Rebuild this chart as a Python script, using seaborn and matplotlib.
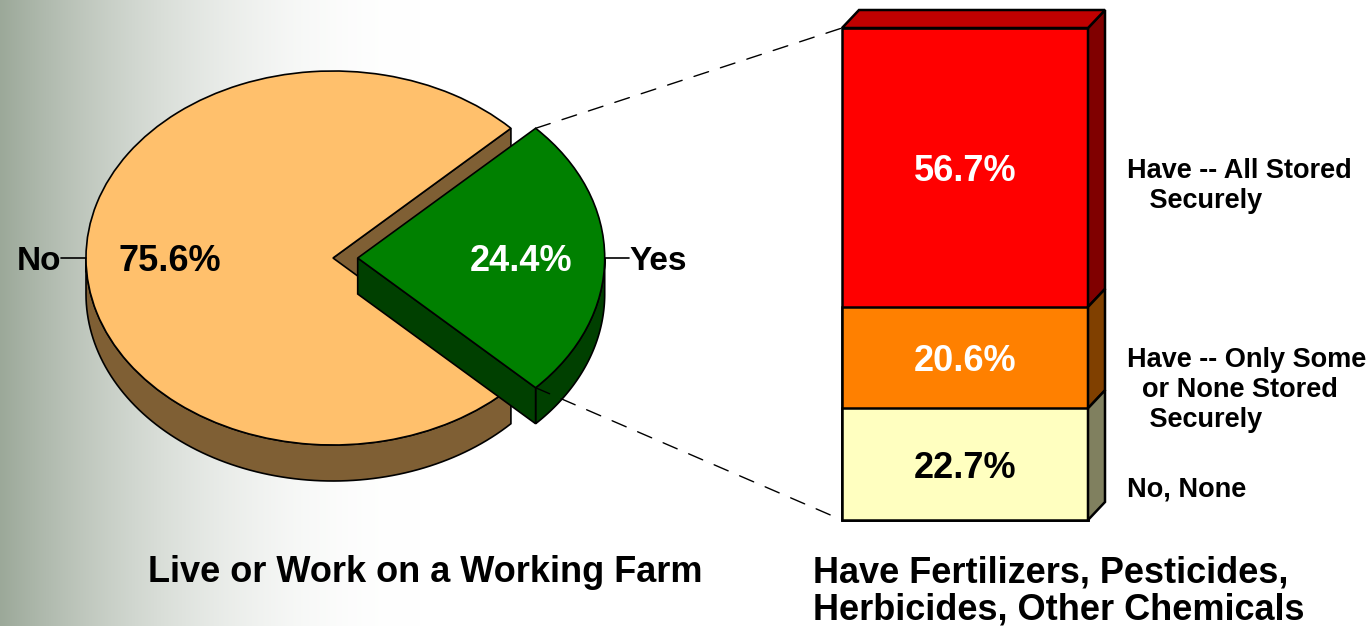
import numpy as np
import matplotlib.pyplot as plt
import seaborn as sns
from matplotlib.patches import Polygon, ConnectionPatch

# ---------------------------
# Data
# ---------------------------
farm_labels = ['No', 'Yes']
farm_pct = [75.6, 24.4]

chem_labels = ['Have -- All Stored\n   Securely',
               'Have -- Only Some\n  or None Stored\n   Securely',
               'No, None']
chem_pct = [56.7, 20.6, 22.7]   # top to bottom of the stack

farm_title = 'Live or Work on a Working Farm'
chem_title = 'Have Fertilizers, Pesticides,\nHerbicides, Other Chemicals'

# ---------------------------
# Styles
# ---------------------------
pie_top = ['#FFC06C', '#008000']
pie_side = ['#7F5F34', '#004000']
pct_color = ['black', 'white']

bar_front = ['#FF0000', '#FF8000', '#FFFFC0']
bar_side = ['#800000', '#804000', '#80805F']
bar_pct_color = ['white', 'white', 'black']
bar_top_color = '#C00000'

sns.set_style('white')
plt.rcParams['font.family'] = ['Liberation Sans', 'DejaVu Sans']
plt.rcParams['text.color'] = 'black'

W, H = 1372, 626
fig = plt.figure(figsize=(W / 100, H / 100), dpi=100)

# background gradient on the left
bg = fig.add_axes([0, 0, 1, 1], zorder=-1)
px = np.arange(W)
t = np.clip(1 - px / 420, 0, 1) ** 2
left_col = np.array([0.61, 0.66, 0.60])
img = 1 - t[:, None] * (1 - left_col)[None, :]
bg.imshow(img[None, :, :], aspect='auto', extent=[0, 1, 0, 1])
bg.axis('off')

# ---------------------------
# 3D pie
# ---------------------------
rx, ry = 247, 187          # pixel radii of the tilted pie
cx_px, cy_px = 333, 258    # pixel centre
ax = fig.add_axes([0, (H - 540) / H, 740 / W, 520 / H])
start = farm_pct[1] / 100 * 360 / 2
wedges, texts, autotexts = ax.pie(
    farm_pct, labels=farm_labels, explode=[0, 0.1], startangle=start,
    colors=pie_top, autopct='%.1f%%', pctdistance=0.66, labeldistance=1.1,
    wedgeprops=dict(edgecolor='black', linewidth=1.2),
    textprops=dict(fontsize=24, fontweight='bold', color='black'))
ax.set_aspect('auto')
ax.set_xlim(-cx_px / rx, (740 - cx_px) / rx)
ax.set_ylim(-(540 - cy_px) / ry, (cy_px - 20) / ry)

depth = 36 / ry


def arc(cx, cy, r, a0, a1, n=90):
    a = np.radians(np.linspace(a0, a1, n))
    return cx + r * np.cos(a), cy + r * np.sin(a)


for i, w in enumerate(wedges):
    cx, cy = w.center
    r = w.r
    t1, t2 = w.theta1, w.theta2
    z = 1 + 2 * i
    w.set_zorder(z + 1)
    # outer rim (front half only)
    for lo, hi in [(180, 360), (540, 720)]:
        a0, a1 = max(t1, lo), min(t2, hi)
        if a0 < a1:
            xs, ys = arc(cx, cy, r, a0, a1)
            pts = np.column_stack([np.r_[xs, xs[::-1]], np.r_[ys, ys[::-1] - depth]])
            ax.add_patch(Polygon(pts, closed=True, fc=pie_side[i], ec='black',
                                 lw=1.2, zorder=z))
    # cut faces facing the viewer
    for a, vis in [(t1, np.cos(np.radians(t1)) > 0), (t2, np.cos(np.radians(t2)) < 0)]:
        if vis:
            ex = cx + r * np.cos(np.radians(a))
            ey = cy + r * np.sin(np.radians(a))
            quad = [(cx, cy), (ex, ey), (ex, ey - depth), (cx, cy - depth)]
            ax.add_patch(Polygon(quad, closed=True, fc=pie_side[i], ec='black',
                                 lw=1.2, zorder=z))
    # leader line to the category label
    m = np.radians((t1 + t2) / 2)
    ax.plot([cx + r * np.cos(m), cx + 1.1 * r * np.cos(m)],
            [cy + r * np.sin(m), cy + 1.1 * r * np.sin(m)],
            color='black', lw=1.2, zorder=6)

text_drop = 4 / ry
for i, (tx, at) in enumerate(zip(texts, autotexts)):
    for tt in (tx, at):
        tt.set_zorder(10)
        x0, y0 = tt.get_position()
        tt.set_position((x0, y0 - text_drop))
    at.set_fontsize(26)
    at.set_color(pct_color[i])

# ---------------------------
# 3D stacked bar
# ---------------------------
bx = fig.add_axes([842 / W, (H - 520) / H, 246 / W, 492 / H])
tops = np.cumsum(chem_pct[::-1])[::-1]
for top, c in zip(tops, bar_front):
    sns.barplot(x=['Chemicals'], y=[top], color=c, width=1, saturation=1,
                edgecolor='black', linewidth=1.8, errorbar=None, ax=bx)
for patch in bx.patches:
    patch.set_clip_on(False)
bx.set_xlim(-0.5, 0.5)
bx.set_ylim(0, 100)
bx.axis('off')

dx = 17 / 246
dy = 18 / 492 * 100
for top, pct, sc in zip(tops, chem_pct, bar_side):
    lo = top - pct
    side = [(0.5, lo), (0.5 + dx, lo + dy), (0.5 + dx, top + dy), (0.5, top)]
    bx.add_patch(Polygon(side, closed=True, fc=sc, ec='black', lw=1.8, clip_on=False))
lid = [(-0.5, 100), (-0.5 + dx, 100 + dy), (0.5 + dx, 100 + dy), (0.5, 100)]
bx.add_patch(Polygon(lid, closed=True, fc=bar_top_color, ec='black', lw=1.8, clip_on=False))

bar_drop = 4 / 492 * 100
for top, pct, col in zip(tops, chem_pct, bar_pct_color):
    bx.text(0, top - pct / 2 - bar_drop, f'{pct:.1f}%', ha='center', va='center',
            fontsize=26, fontweight='bold', color=col, transform=bx.transData)

label_x = 0.5 + 39 / 246
for lab, y in zip(chem_labels, [73.6, 35.2, 8.9]):
    bx.text(label_x, y, lab, ha='left', va='top', fontsize=19.5,
            fontweight='bold', linespacing=1.2, clip_on=False)

# dashed connectors from the exploded slice to the bar
g = wedges[1]
for ang, yb in [(g.theta2, 100), (g.theta1, 0)]:
    p = (g.center[0] + g.r * np.cos(np.radians(ang)),
         g.center[1] + g.r * np.sin(np.radians(ang)))
    con = ConnectionPatch(xyA=p, coordsA=ax.transData,
                          xyB=(-0.5, yb), coordsB=bx.transData,
                          color='black', lw=1, linestyle=(0, (11, 9)))
    fig.add_artist(con)

# titles
fig.text(425 / W, (H - 555) / H, farm_title, ha='center', va='top',
         fontsize=26, fontweight='bold')
fig.text(813 / W, (H - 555) / H, chem_title, ha='left', va='top',
         fontsize=26, fontweight='bold', linespacing=1.1)

fig.savefig('out.png', dpi=100)
